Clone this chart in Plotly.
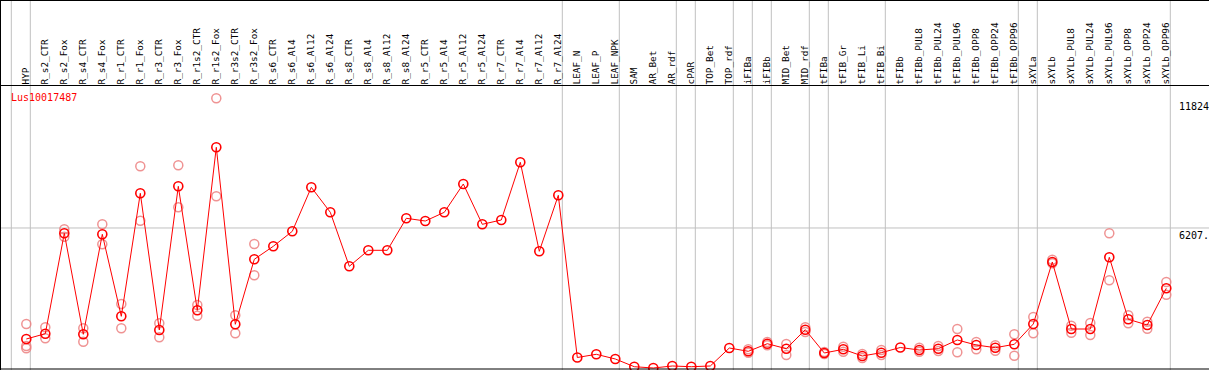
import plotly.graph_objects as go

categories = ["HYP", "R_s2_CTR", "R_s2_Fox", "R_s4_CTR", "R_s4_Fox", "R_r1_CTR", "R_r1_Fox",
              "R_r3_CTR", "R_r3_Fox", "R_r1s2_CTR", "R_r1s2_Fox", "R_r3s2_CTR", "R_r3s2_Fox",
              "R_s6_CTR", "R_s6_Al4", "R_s6_Al12", "R_s6_Al24", "R_s8_CTR", "R_s8_Al4", "R_s8_Al12",
              "R_s8_Al24", "R_r5_CTR", "R_r5_Al4", "R_r5_Al12", "R_r5_Al24", "R_r7_CTR", "R_r7_Al4",
              "R_r7_Al12", "R_r7_Al24", "LEAF_N", "LEAF_P", "LEAF_NPK", "SAM", "AR_Bet", "AR_rdf",
              "cPAR", "TOP_Bet", "TOP_rdf", "iFIBa", "iFIBb", "MID_Bet", "MID_rdf", "tFIBa",
              "tFIB_Gr", "tFIB_Li", "tFIB_Bi", "tFIBb", "tFIBb_PUL8", "tFIBb_PUL24", "tFIBb_PUL96",
              "tFIBb_OPP8", "tFIBb_OPP24", "tFIBb_OPP96", "sXYLa", "sXYLb", "sXYLb_PUL8",
              "sXYLb_PUL24", "sXYLb_PUL96", "sXYLb_OPP8", "sXYLb_OPP24", "sXYLb_OPP96"]

means = [1399, 1628, 5977, 1602, 5933, 2382, 7709, 1789, 8012, 2642, 9701, 2036, 4851,
         5414, 6063, 7969, 6886, 4547, 5240, 5240, 6626, 6509, 6886, 8112, 6366, 6553, 9052, 5197, 7622,
         598, 736, 533, 199, 143, 230, 199, 230, 1009,
         866, 1195, 979, 1802, 793, 953, 663, 806,
         1031, 922, 979, 1356, 1139, 1022, 1169,
         2049, 4734, 1832, 1832, 4937, 2252, 2005, 3595]

rep_a = [2049, 1906, 6150, 1862, 6366, 2915, 8878, 2079, 8922, 2871, 11824, 2425, 5513,
         None, None, None, None, None, None, None, None, None, None, None, None, None, None, None, None,
         None, None, None, None, None, None, None, None, None,
         953, 1269, 1182, 1906, 835, 1065, 749, 922,
         None, 1022, 1096, 1832, 1269, 1126, 1602,
         2352, 4833, 1975, 2092, 5977, 2425, 2148, 3867]

rep_b = [1096, 1429, 5829, 1282, 5500, 1862, 6522, 1472, 7103, 2408, 7579, 1646, 4158,
         None, None, None, None, None, None, None, None, None, None, None, None, None, None, None, None,
         None, None, None, None, None, None, None, None, None,
         806, 1126, 706, 1702, 748, 849, 576, 706,
         None, 849, 879, 823, 953, 892, 676,
         1646, 4677, 1672, 1572, 3941, 2079, 1845, 3317]

rep_c = [996] + [None] * 60

# group separators: drawn just after these column indices
separators_after = [-1, 0, 28, 31, 34, 35, 37, 38, 39, 41, 42, 45, 52, 53, 60]

gene = "Lus10017487"
ytick_vals = [0, 6207, 11824]
ytick_text = ["0", "6207.", "11824"]

W, H = 1209, 370
FONT = "DejaVu Sans Mono"
RED = "#ff0000"
PINK = "rgba(236,128,128,0.85)"
GRID = "#c0c0c0"

xs = list(range(len(categories)))

fig = go.Figure()
for reps in (rep_a, rep_b, rep_c):
    fig.add_trace(go.Scatter(
        x=xs, y=reps, mode="markers",
        marker=dict(symbol="circle-open", size=9, color=PINK, line=dict(width=1.5, color=PINK)),
        showlegend=False, hoverinfo="skip"))

fig.add_trace(go.Scatter(
    x=xs, y=means, mode="lines+markers",
    line=dict(color=RED, width=1),
    marker=dict(symbol="circle-open", size=9, color=RED, line=dict(width=1.6, color=RED)),
    showlegend=False))

# geometry: column 0 at px 26.3, spacing 19 px
x0_px, dx_px = 26.3, 19.0
xr = [(0 - x0_px) / dx_px, (W - x0_px) / dx_px]
top_px = 85.5
ydom_top = (H - top_px) / H
# value mapping: px = 371.3 - v*0.02309
y_at = lambda px: (371.3 - px) / 0.02309
yr = [y_at(H), y_at(top_px)]

shapes = []
for s in separators_after:
    xp = s + 4.0 / dx_px
    shapes.append(dict(type="line", xref="x", yref="paper", x0=xp, x1=xp, y0=0, y1=1,
                       line=dict(color=GRID, width=1), layer="below"))
shapes.append(dict(type="line", xref="paper", yref="y", x0=0, x1=1, y0=ytick_vals[1], y1=ytick_vals[1],
                   line=dict(color=GRID, width=1), layer="below"))
# frame lines
shapes.append(dict(type="line", xref="paper", yref="paper", x0=0, x1=1, y0=1 - 0.5 / H, y1=1 - 0.5 / H,
                   line=dict(color="black", width=1)))
shapes.append(dict(type="line", xref="paper", yref="paper", x0=0, x1=1, y0=ydom_top, y1=ydom_top,
                   line=dict(color="black", width=1)))
shapes.append(dict(type="line", xref="paper", yref="paper", x0=0, x1=1, y0=1.0 / H, y1=1.0 / H,
                   line=dict(color="black", width=1)))
shapes.append(dict(type="line", xref="paper", yref="paper", x0=0.5 / W, x1=0.5 / W, y0=0, y1=1,
                   line=dict(color="black", width=1)))

annotations = [
    dict(text=gene, xref="paper", yref="paper", x=8.5 / W, y=(H - 90.0) / H,
         xanchor="left", yanchor="top", showarrow=False,
         font=dict(family=FONT, size=10, color=RED)),
    dict(text=ytick_text[2], xref="paper", yref="y", x=1177.0 / W, y=ytick_vals[2],
         xanchor="left", yanchor="top", showarrow=False, yshift=-1,
         font=dict(family=FONT, size=10, color="black")),
    dict(text=ytick_text[1], xref="paper", yref="y", x=1177.0 / W, y=ytick_vals[1],
         xanchor="left", yanchor="top", showarrow=False,
         font=dict(family=FONT, size=10, color="black")),
    dict(text=ytick_text[0], xref="paper", yref="y", x=1177.0 / W, y=ytick_vals[0],
         xanchor="left", yanchor="bottom", showarrow=False, yshift=3,
         font=dict(family=FONT, size=10, color="black")),
]

fig.update_layout(
    width=W, height=H, autosize=False,
    margin=dict(l=0, r=0, t=0, b=0, pad=0),
    paper_bgcolor="white", plot_bgcolor="white",
    xaxis=dict(range=xr, domain=[0, 1], side="top", tickmode="array", tickvals=xs,
               ticktext=categories, tickangle=-90, ticks="", showgrid=False, zeroline=False,
               showline=False, tickfont=dict(family=FONT, size=9.4, color="black"),
               automargin=False, fixedrange=True),
    yaxis=dict(range=yr, domain=[0, ydom_top], showgrid=False, zeroline=False, showline=False,
               showticklabels=False, ticks="", automargin=False, fixedrange=True),
    shapes=shapes, annotations=annotations, showlegend=False,
)

fig.write_html("out.html", config={"displayModeBar": False},
               post_script="document.body.style.margin='0';document.body.style.padding='0';"
                           "document.body.style.overflow='hidden';")
